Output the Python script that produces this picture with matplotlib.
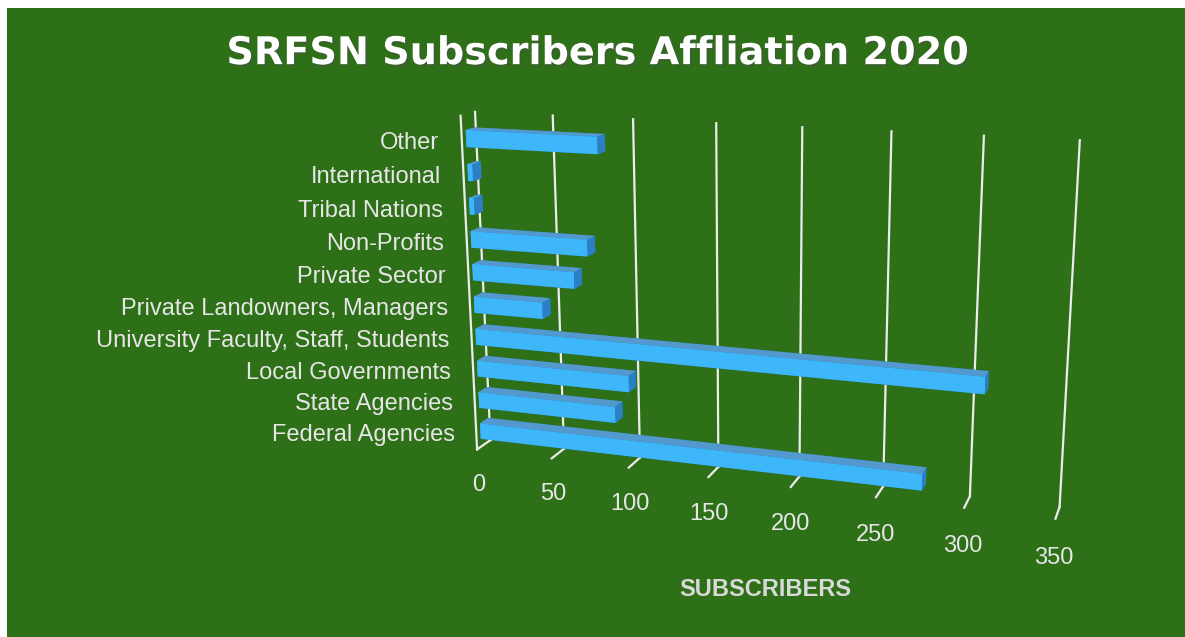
import numpy as np
import matplotlib.pyplot as plt
import matplotlib.patheffects as pe
from matplotlib.patches import Rectangle
from mpl_toolkits.mplot3d import proj3d

categories = ['Federal Agencies', 'State Agencies', 'Local Governments',
              'University Faculty, Staff, Students', 'Private Landowners, Managers',
              'Private Sector', 'Non-Profits', 'Tribal Nations', 'International', 'Other']
subscribers = [275, 90, 99, 308, 45, 66, 75, 3, 3, 83]
ticks = [0, 50, 100, 150, 200, 250, 300, 350]

BG = '#2e7018'
GRID = '#ececec'
TXT = '#e6e6e6'
FONT = 'Liberation Sans'
ZTOP = 10.2

fig = plt.figure(figsize=(11.85, 6.37), dpi=100)
fig.patch.set_facecolor('white')
fig.add_artist(Rectangle((7 / 1185, 0), 1, 1 - 8 / 637, transform=fig.transFigure,
                         facecolor=BG, edgecolor='none', zorder=-10))

ax = fig.add_axes([0.329, 0.004, 0.6, 1.0], projection='3d')
ax.set_facecolor('none')
ax.set_axis_off()
for a in (ax.xaxis, ax.yaxis, ax.zaxis):
    a.set_visible(False)
ax.set_proj_type('persp', focal_length=0.447)
ax.view_init(elev=15, azim=-72)
ax.set_xlim(0, 350)
ax.set_ylim(0, 1)
ax.set_zlim(0, ZTOP)
ax.set_box_aspect((6, 0.3, 3.5), zoom=1.094)

# gridlines on back wall and floor
for t in ticks:
    ax.plot([t, t], [1, 1], [0, ZTOP], color=GRID, lw=1.6, clip_on=False)
    ax.plot([t, t], [0, 1], [0, 0], color=GRID, lw=1.6, clip_on=False)
ax.plot([0, 0], [0, 0], [0, ZTOP], color=GRID, lw=1.6, clip_on=False)

# bars
n = len(categories)
face_cols = ['#2a78b8', '#5399cd', '#3db6fa', '#2a78b8', '#3aa8ee', '#2b7fc4']
bars = ax.bar3d(np.zeros(n), np.full(n, 0.3), np.arange(n) + 0.25,
                subscribers, np.full(n, 0.62), np.full(n, 0.5),
                color=face_cols * n, shade=False)
bars.set_clip_on(False)

# labels: project 3D anchor points once the view is fixed
fig.canvas.draw()
M = ax.get_proj()


def label(x, y, z, s, **kw):
    px, py, _ = proj3d.proj_transform(x, y, z, M)
    ax.text2D(px, py, s, transform=ax.transData, color=TXT, fontsize=17,
              family=FONT, va='center', clip_on=False, **kw)


for t in ticks:
    label(t, 0, -1.15, str(t), ha='center')
for i, lab in enumerate(categories):
    label(-15, 0, i + 0.37, lab, ha='right')

fig.text(0.505, 0.915, 'SRFSN Subscribers Affliation 2020', color='white',
         fontsize=27.5, fontweight='bold', family='DejaVu Sans',
         ha='center', va='center',
         path_effects=[pe.SimplePatchShadow(offset=(1.5, -1.5), alpha=0.45),
                       pe.Normal()])
fig.text(0.646, 0.075, 'SUBSCRIBERS', color='#d9d9d9', fontsize=17,
         fontweight='bold', family=FONT, ha='center', va='center')

fig.savefig('out.png', dpi=100)
